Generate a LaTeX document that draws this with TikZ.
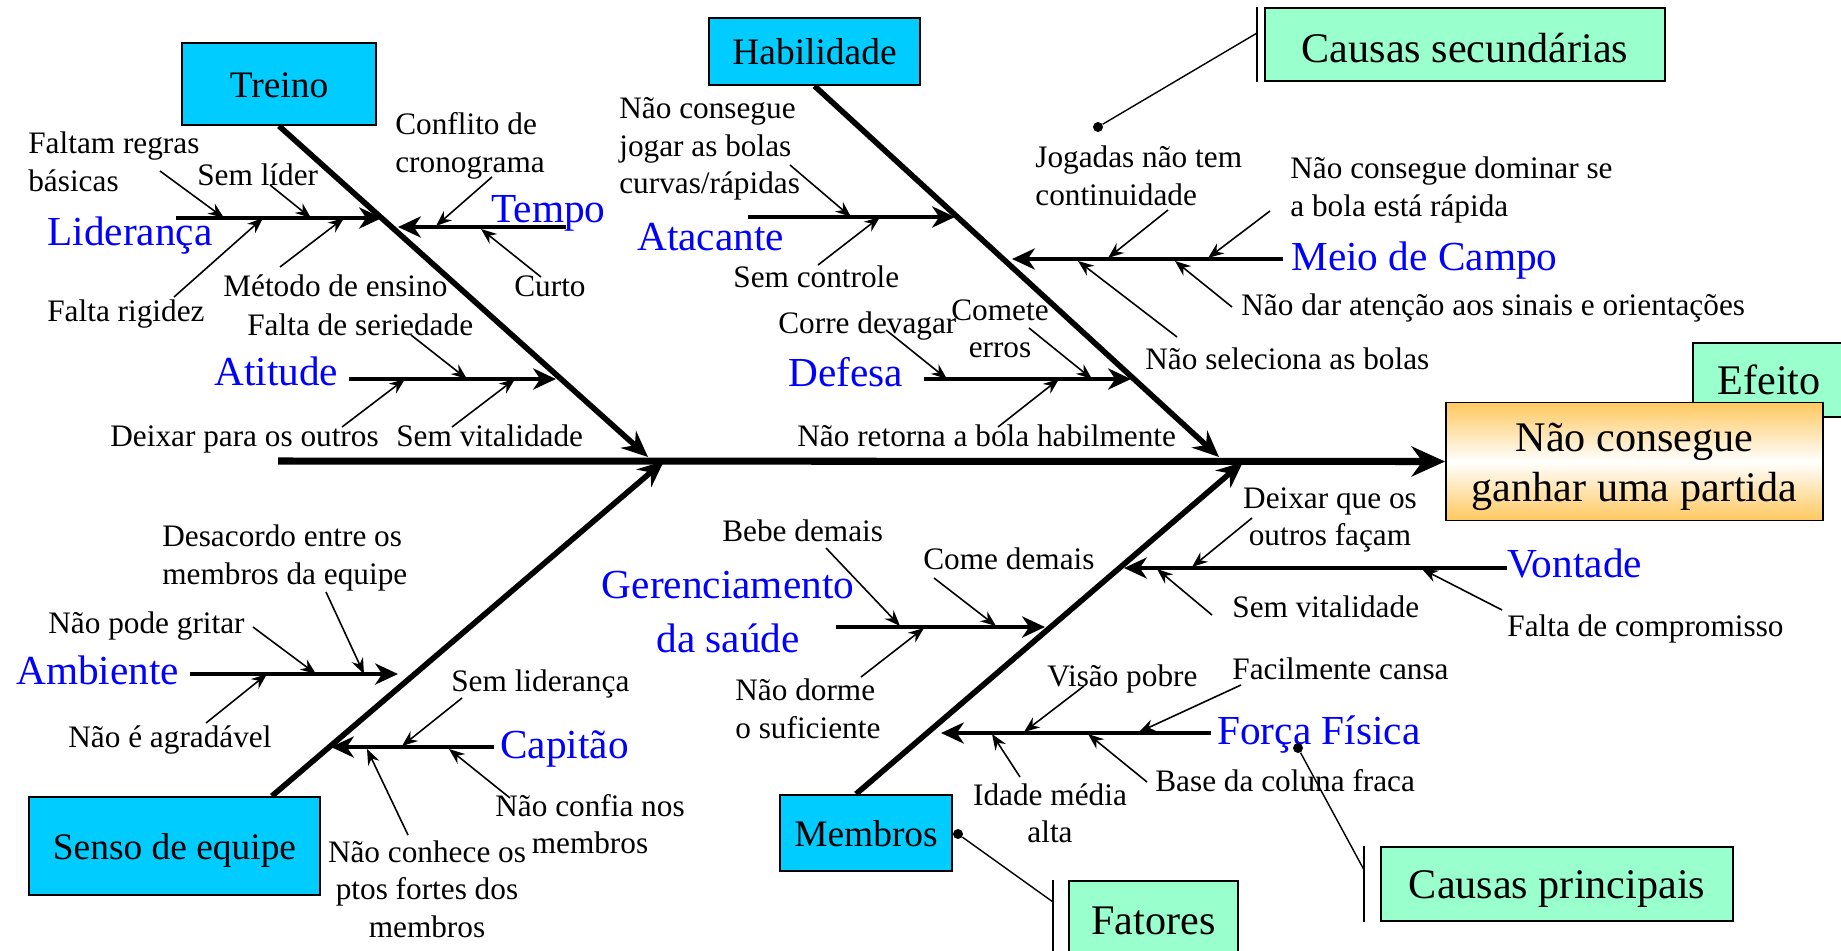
\documentclass[tikz,border=0pt]{standalone}
\usepackage{fontspec}
\setmainfont{Liberation Serif}
\usetikzlibrary{arrows.meta,positioning}
\definecolor{boxcyan}{RGB}{0,204,255}
\definecolor{boxmint}{RGB}{153,255,204}
\definecolor{boxorange}{RGB}{255,200,95}
\definecolor{catblue}{RGB}{0,0,255}

\begin{document}
\begin{tikzpicture}[x=0.02cm, y=-0.02cm,
  txt/.style={inner sep=0pt, font=\fontsize{17.8}{21.3}\selectfont, align=left},
  one/.style={text height=16pt, text depth=3.9pt},
  cat/.style={inner sep=0pt, font=\fontsize{23.5}{30.6}\selectfont, text=catblue, align=center},
  onecat/.style={text height=21.2pt, text depth=5.2pt},
  cbox/.style={rectangle, draw, line width=1.1pt, fill=boxcyan,
               font=\fontsize{21.3}{25}\selectfont, text height=19.2pt, text depth=4.3pt},
  lbox/.style={rectangle, draw, line width=1.1pt, fill=boxmint,
               font=\fontsize{24}{28.4}\selectfont, text height=21.6pt, text depth=4.8pt},
  arr/.style={-{Stealth[length=9pt, width=7pt, inset=3pt]}, line width=0.9pt},
  br/.style={-{Stealth[length=13pt, width=12pt, inset=4pt]}, line width=2.3pt},
  bone/.style={-{Stealth[length=15pt, width=13pt, inset=5pt]}, line width=3.2pt},
  spine/.style={-{Stealth[length=19pt, width=17pt, inset=6pt]}, line width=4pt},
  lead/.style={line width=0.8pt},
  blob/.style={circle, fill, inner sep=0pt, minimum size=0.2cm},
]
  \path[use as bounding box, fill=white] (0,0) rectangle (1841,950);

  % effect
  \node[lbox, minimum width=3.04cm, minimum height=1.48cm] (efeito) at (1769,380) {Efeito};
  \node[rectangle, draw, line width=1.1pt, top color=boxorange, bottom color=boxorange,
        middle color=white, minimum width=7.54cm, minimum height=2.36cm] (effect) at (1634.5,461.5) {};
  \node[align=center, inner sep=0pt, font=\fontsize{24}{28.4}\selectfont] (effectT)
    at ([yshift=-0.1cm]effect.center) {Não consegue\\ganhar uma partida};
  \coordinate (sp0) at (278,461);
  \draw[spine] (sp0) -- (effect.west);

  % Treino
  \node[cbox, minimum width=3.88cm, minimum height=1.64cm] (treino) at (279,84) {Treino};
  \coordinate (t1) at (648,457);
  \draw[bone] (treino.south) -- (t1);

  \coordinate (lid0) at (176,218); \coordinate (lid1) at (382,218);
  \draw[br] (lid0) -- (lid1);
  \node[cat, onecat, anchor=west] (lid) at (47,231) {Liderança};
  \node[txt, anchor=west] (lidA) at (28,162) {Faltam regras\\básicas};
  \coordinate (lidA0) at (160,171); \coordinate (lidA1) at (224,218);
  \draw[arr] (lidA0) -- (lidA1);
  \node[txt, one, anchor=west] (lidB) at (197,175) {Sem líder};
  \coordinate (lidB0) at (270,185); \coordinate (lidB1) at (311,218);
  \draw[arr] (lidB0) -- (lidB1);
  \node[txt, one, anchor=west] (lidC) at (47,311) {Falta rigidez};
  \coordinate (lidC0) at (174,297); \coordinate (lidC1) at (263,218);
  \draw[arr] (lidC0) -- (lidC1);
  \node[txt, one, anchor=west] (lidD) at (223,286) {Método de ensino};
  \coordinate (lidD0) at (280,267); \coordinate (lidD1) at (344,218);
  \draw[arr] (lidD0) -- (lidD1);

  \coordinate (tem0) at (566,227); \coordinate (tem1) at (398,227);
  \draw[br] (tem0) -- (tem1);
  \node[cat, onecat, anchor=west] (tem) at (491,208) {Tempo};
  \node[txt, anchor=west] (temA) at (395,146) {Conflito de\\cronograma};
  \coordinate (temA0) at (492,177); \coordinate (temA1) at (436,226);
  \draw[arr] (temA0) -- (temA1);
  \node[txt, one, anchor=west] (temB) at (514,286) {Curto};
  \coordinate (temB0) at (541,277); \coordinate (temB1) at (481,229);
  \draw[arr] (temB0) -- (temB1);

  \coordinate (ati0) at (349,379); \coordinate (ati1) at (556,379);
  \draw[br] (ati0) -- (ati1);
  \node[cat, onecat, anchor=west] (ati) at (214,371) {Atitude};
  \node[txt, one, anchor=west] (atiA) at (247,325) {Falta de seriedade};
  \coordinate (atiA0) at (411,335); \coordinate (atiA1) at (467,379);
  \draw[arr] (atiA0) -- (atiA1);
  \node[txt, one, anchor=west] (atiB) at (110,436) {Deixar para os outros};
  \coordinate (atiB0) at (342,427); \coordinate (atiB1) at (405,379);
  \draw[arr] (atiB0) -- (atiB1);
  \node[txt, one, anchor=west] (atiC) at (396,436) {Sem vitalidade};
  \coordinate (atiC0) at (452,427); \coordinate (atiC1) at (515,379);
  \draw[arr] (atiC0) -- (atiC1);

  % Habilidade
  \node[cbox, minimum width=4.22cm, minimum height=1.34cm] (habil) at (814.5,51.5) {Habilidade};
  \coordinate (h1) at (1219,457);
  \draw[bone] (habil.south) -- (h1);

  \coordinate (ata0) at (748,217); \coordinate (ata1) at (955,217);
  \draw[br] (ata0) -- (ata1);
  \node[cat, onecat, anchor=west] (ata) at (637,236) {Atacante};
  \node[txt, anchor=west] (ataA) at (619,149) {Não consegue\\jogar as bolas\\curvas/rápidas};
  \coordinate (ataA0) at (790,165); \coordinate (ataA1) at (851,217);
  \draw[arr] (ataA0) -- (ataA1);
  \node[txt, one, anchor=west] (ataB) at (733,277) {Sem controle};
  \coordinate (ataB0) at (818,265); \coordinate (ataB1) at (880,217);
  \draw[arr] (ataB0) -- (ataB1);

  \coordinate (def0) at (924,379); \coordinate (def1) at (1131,379);
  \draw[br] (def0) -- (def1);
  \node[cat, onecat, anchor=west] (def) at (788,372) {Defesa};
  \node[txt, one, anchor=west] (defA) at (778,323) {Corre devagar};
  \coordinate (defA0) at (886,330); \coordinate (defA1) at (947,379);
  \draw[arr] (defA0) -- (defA1);
  \node[txt, align=center] (defB) at (1000,329) {Comete\\erros};
  \coordinate (defB0) at (1029,328); \coordinate (defB1) at (1092,379);
  \draw[arr] (defB0) -- (defB1);
  \node[txt, one, anchor=west] (defC) at (797,436) {Não retorna a bola habilmente};
  \coordinate (defC0) at (998,427); \coordinate (defC1) at (1059,379);
  \draw[arr] (defC0) -- (defC1);

  \coordinate (mei0) at (1283,259); \coordinate (mei1) at (1012,259);
  \draw[br] (mei0) -- (mei1);
  \node[cat, onecat, anchor=west] (mei) at (1291,256) {Meio de Campo};
  \node[txt, anchor=west] (meiA) at (1035,176) {Jogadas não tem\\continuidade};
  \coordinate (meiA0) at (1168,210); \coordinate (meiA1) at (1108,258);
  \draw[arr] (meiA0) -- (meiA1);
  \node[txt, anchor=west] (meiB) at (1290,190) {Não consegue dominar se\\a bola está rápida};
  \coordinate (meiB0) at (1270,211); \coordinate (meiB1) at (1208,258);
  \draw[arr] (meiB0) -- (meiB1);
  \node[txt, one, anchor=west] (meiC) at (1145,359) {Não seleciona as bolas};
  \coordinate (meiC0) at (1177,337); \coordinate (meiC1) at (1078,261);
  \draw[arr] (meiC0) -- (meiC1);
  \node[txt, one, anchor=west] (meiD) at (1241,305) {Não dar atenção aos sinais e orientações};
  \coordinate (meiD0) at (1232,307); \coordinate (meiD1) at (1175,261);
  \draw[arr] (meiD0) -- (meiD1);

  % Senso de equipe
  \node[cbox, minimum width=5.82cm, minimum height=1.96cm] (senso) at (174.5,846) {Senso de equipe};
  \coordinate (s1) at (664,461);
  \draw[bone] ([xshift=-0.98cm]senso.north east) -- (s1);

  \coordinate (amb0) at (190,674); \coordinate (amb1) at (398,674);
  \draw[br] (amb0) -- (amb1);
  \node[cat, onecat, anchor=west] (amb) at (16,670) {Ambiente};
  \node[txt, one, anchor=west] (ambA) at (48,623) {Não pode gritar};
  \coordinate (ambA0) at (253,627); \coordinate (ambA1) at (316,674);
  \draw[arr] (ambA0) -- (ambA1);
  \node[txt, anchor=west] (ambB) at (162,558) {Desacordo entre os\\membros da equipe};
  \coordinate (ambB0) at (326,592); \coordinate (ambB1) at (364,674);
  \draw[arr] (ambB0) -- (ambB1);
  \node[txt, one, anchor=west] (ambC) at (68,737) {Não é agradável};
  \coordinate (ambC0) at (206,723); \coordinate (ambC1) at (267,674);
  \draw[arr] (ambC0) -- (ambC1);

  \coordinate (cap0) at (494,747); \coordinate (cap1) at (331,747);
  \draw[br] (cap0) -- (cap1);
  \node[cat, onecat, anchor=west] (cap) at (500,744) {Capitão};
  \node[txt, one, anchor=west] (capA) at (451,681) {Sem liderança};
  \coordinate (capA0) at (462,698); \coordinate (capA1) at (402,746);
  \draw[arr] (capA0) -- (capA1);
  \node[txt, align=center] (capB) at (590,824) {Não confia nos\\membros};
  \coordinate (capB0) at (510,798); \coordinate (capB1) at (449,749);
  \draw[arr] (capB0) -- (capB1);
  \node[txt, align=center] (capC) at (427,889) {Não conhece os\\ptos fortes dos\\membros};
  \coordinate (capC0) at (408,835); \coordinate (capC1) at (367,749);
  \draw[arr] (capC0) -- (capC1);

  % Membros
  \node[cbox, minimum width=3.44cm, minimum height=1.52cm] (memb) at (866,833) {Membros};
  \coordinate (m1) at (1243,462);
  \draw[bone] ([xshift=-0.2cm]memb.north) -- (m1);

  \coordinate (ger0) at (836,627); \coordinate (ger1) at (1045,627);
  \draw[br] (ger0) -- (ger1);
  \node[cat] (ger) at (728,612) {Gerenciamento\\da saúde};
  \node[txt, one, anchor=west] (gerA) at (722,531) {Bebe demais};
  \coordinate (gerA0) at (826,548); \coordinate (gerA1) at (900,626);
  \draw[arr] (gerA0) -- (gerA1);
  \node[txt, one, anchor=west] (gerB) at (923,559) {Come demais};
  \coordinate (gerB0) at (934,578); \coordinate (gerB1) at (996,626);
  \draw[arr] (gerB0) -- (gerB1);
  \node[txt, anchor=west] (gerC) at (735,709) {Não dorme\\o suficiente};
  \coordinate (gerC0) at (861,677); \coordinate (gerC1) at (924,628);
  \draw[arr] (gerC0) -- (gerC1);

  \coordinate (von0) at (1507,568); \coordinate (von1) at (1124,568);
  \draw[br] (von0) -- (von1);
  \node[cat, onecat, anchor=west] (von) at (1507,563) {Vontade};
  \node[txt, align=center] (vonA) at (1330,520) {Deixar que os\\outros façam};
  \coordinate (vonA0) at (1252,518); \coordinate (vonA1) at (1192,567);
  \draw[arr] (vonA0) -- (vonA1);
  \node[txt, one, anchor=west] (vonB) at (1232,607) {Sem vitalidade};
  \coordinate (vonB0) at (1212,615); \coordinate (vonB1) at (1157,569);
  \draw[arr] (vonB0) -- (vonB1);
  \node[txt, one, anchor=west] (vonC) at (1507,626) {Falta de compromisso};
  \coordinate (vonC0) at (1502,610); \coordinate (vonC1) at (1422,569);
  \draw[arr] (vonC0) -- (vonC1);

  \coordinate (for0) at (1211,733); \coordinate (for1) at (941,733);
  \draw[br] (for0) -- (for1);
  \node[cat, onecat, anchor=west] (for) at (1217,730) {Força Física};
  \node[txt, one, anchor=west] (forA) at (1047,676) {Visão pobre};
  \coordinate (forA0) at (1084,686); \coordinate (forA1) at (1024,732);
  \draw[arr] (forA0) -- (forA1);
  \node[txt, one, anchor=west] (forB) at (1232,669) {Facilmente cansa};
  \coordinate (forB0) at (1241,685); \coordinate (forB1) at (1139,732);
  \draw[arr] (forB0) -- (forB1);
  \node[txt, align=center] (forC) at (1050,813) {Idade média\\alta};
  \coordinate (forC0) at (1020,777); \coordinate (forC1) at (992,734);
  \draw[arr] (forC0) -- (forC1);
  \node[txt, one, anchor=west] (forD) at (1155,781) {Base da coluna fraca};
  \coordinate (forD0) at (1147,782); \coordinate (forD1) at (1088,734);
  \draw[arr] (forD0) -- (forD1);

  % legend
  \node[lbox, minimum width=8cm, minimum height=1.46cm, text height=24pt, text depth=3.6pt]
    (sec) at (1465,44.5) {Causas secundárias};
  \draw[lead] ([xshift=-0.14cm]sec.north west) -- ([xshift=-0.14cm]sec.south west);
  \node[blob] (d1) at (1098,127) {};
  \draw[lead] (d1) -- ([xshift=-0.14cm,yshift=0.23cm]sec.west);

  \node[lbox, minimum width=7.04cm, minimum height=1.48cm] (princ) at (1557,884) {Causas principais};
  \draw[lead] ([xshift=-0.32cm]princ.north west) -- ([xshift=-0.32cm]princ.south west);
  \node[blob] (d2) at (1298,748) {};
  \draw[lead] (d2) -- ([xshift=-0.32cm,yshift=0.28cm]princ.west);

  \node[lbox, minimum width=3.38cm, minimum height=1.54cm] (fat) at (1153.5,919.5) {Fatores};
  \draw[lead] ([xshift=-0.3cm]fat.north west) -- ([xshift=-0.3cm]fat.south west);
  \node[blob] (d3) at (958,834) {};
  \draw[lead] (d3) -- ([xshift=-0.3cm,yshift=-0.44cm]fat.north west);
\end{tikzpicture}
\end{document}
